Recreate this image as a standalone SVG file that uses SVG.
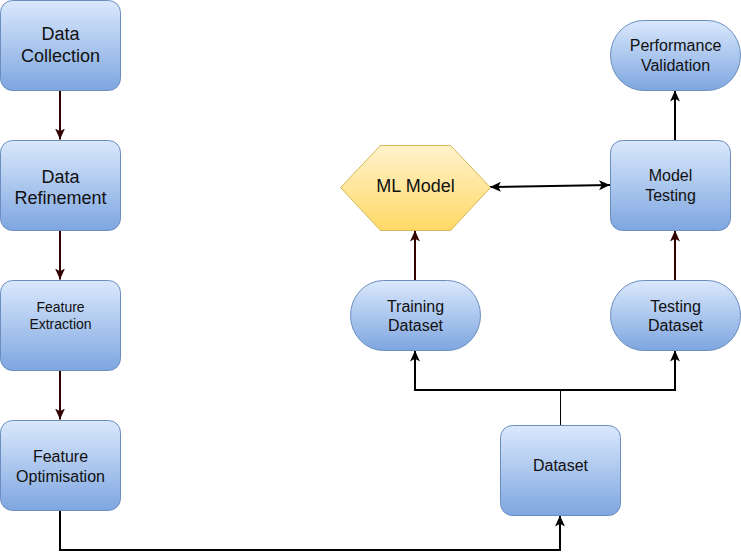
<svg xmlns="http://www.w3.org/2000/svg" width="741" height="560" viewBox="0 0 741 560">
<defs>
<linearGradient id="gb" x1="0" y1="0" x2="0" y2="1"><stop offset="0" stop-color="#dae8fc"/><stop offset="1" stop-color="#7ea6e0"/></linearGradient>
<linearGradient id="gy" x1="0" y1="0" x2="0" y2="1"><stop offset="0" stop-color="#fff2cc"/><stop offset="1" stop-color="#ffd966"/></linearGradient>
<marker id="ak" viewBox="0 0 10 10" refX="10" refY="5" markerWidth="11" markerHeight="11" markerUnits="userSpaceOnUse" orient="auto-start-reverse"><path d="M0,0.5 L10,5 L0,9.5 L2.5,5 Z" fill="#000"/></marker>
<marker id="am" viewBox="0 0 10 10" refX="10" refY="5" markerWidth="11" markerHeight="11" markerUnits="userSpaceOnUse" orient="auto"><path d="M0,0.5 L10,5 L0,9.5 L2.5,5 Z" fill="#330000"/></marker>
</defs>
<style>
.b{fill:url(#gb);stroke:#6c8ebf;stroke-width:1}
.y{fill:url(#gy);stroke:#d6b656;stroke-width:1}
text{font-family:"Liberation Sans",Arial,sans-serif;fill:#111;text-anchor:middle}
.k{fill:none;stroke:#000;stroke-width:2}
.m{fill:none;stroke:#330000;stroke-width:2;marker-end:url(#am)}
</style>
<g id="connectors">
<path class="m" d="M60,90.5 V139.5"/>
<path class="m" d="M60,230.5 V279.5"/>
<path class="m" d="M60,370.5 V419.5"/>
<path class="k" d="M60,510.5 V550 H560 V515.5" marker-end="url(#ak)"/>
<path d="M560.5,425 V390" fill="none" stroke="#000" stroke-width="1"/>
<path class="k" d="M560,390 H415 V350.5" marker-end="url(#ak)"/>
<path class="k" d="M560,390 H675 V350.5" marker-end="url(#ak)"/>
<path class="m" d="M415,280 V230.5"/>
<path class="m" d="M675,280 V230.5"/>
<path class="k" d="M490,187 L610,185" marker-start="url(#ak)" marker-end="url(#ak)"/>
<path class="k" d="M675,140 V90.5" marker-end="url(#ak)"/>
</g>
<g id="data-collection"><rect class="b" x="0.5" y="0.5" width="120" height="90" rx="12"/><text font-size="18"><tspan x="60.5" y="40">Data</tspan><tspan x="60.5" y="62">Collection</tspan></text></g>
<g id="data-refinement"><rect class="b" x="0.5" y="140.5" width="120" height="90" rx="12"/><text font-size="18"><tspan x="60.5" y="182.5">Data</tspan><tspan x="60.5" y="203.5">Refinement</tspan></text></g>
<g id="feature-extraction"><rect class="b" x="0.5" y="280.5" width="120" height="90" rx="12"/><text font-size="14"><tspan x="60.5" y="312">Feature</tspan><tspan x="60.5" y="329">Extraction</tspan></text></g>
<g id="feature-optimisation"><rect class="b" x="0.5" y="420.5" width="120" height="90" rx="12"/><text font-size="16"><tspan x="60.5" y="461.5">Feature</tspan><tspan x="60.5" y="481.5">Optimisation</tspan></text></g>
<g id="dataset"><rect class="b" x="500.5" y="425.5" width="120" height="90" rx="12"/><text font-size="16" x="560.5" y="471">Dataset</text></g>
<g id="training-dataset"><rect class="b" x="350.5" y="280.5" width="130" height="70" rx="33" ry="35"/><text font-size="16"><tspan x="415.5" y="311.5">Training</tspan><tspan x="415.5" y="331">Dataset</tspan></text></g>
<g id="testing-dataset"><rect class="b" x="610.5" y="280.5" width="130" height="70" rx="33" ry="35"/><text font-size="16"><tspan x="675.5" y="311.5">Testing</tspan><tspan x="675.5" y="331">Dataset</tspan></text></g>
<g id="ml-model"><polygon class="y" points="340.5,187.5 380.5,145.5 450.5,145.5 490.5,187.5 450.5,230.5 380.5,230.5"/><text font-size="18" x="415.5" y="192">ML Model</text></g>
<g id="model-testing"><rect class="b" x="610.5" y="140.5" width="120" height="90" rx="12"/><text font-size="16"><tspan x="670.5" y="181">Model</tspan><tspan x="670.5" y="201">Testing</tspan></text></g>
<g id="performance-validation"><rect class="b" x="610.5" y="20.5" width="130" height="70" rx="33" ry="35"/><text font-size="16"><tspan x="675.5" y="51">Performance</tspan><tspan x="675.5" y="71">Validation</tspan></text></g>
</svg>
